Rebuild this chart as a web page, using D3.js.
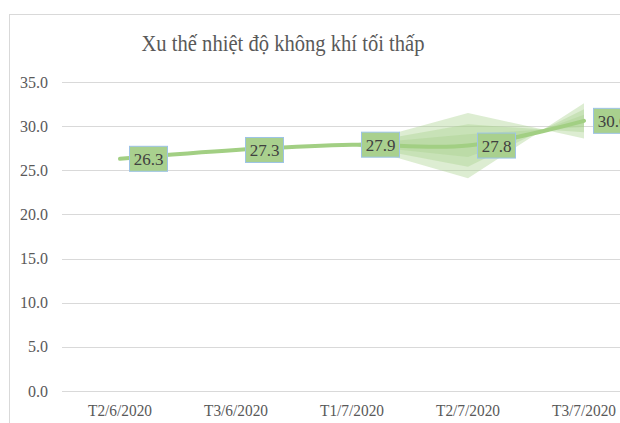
<!DOCTYPE html>
<html>
<head>
<meta charset="utf-8">
<script src="https://cdn.jsdelivr.net/npm/d3@7"></script>
<style>
  body { margin: 0; background: #fff; }
  svg text { font-family: "Liberation Serif", serif; }
</style>
</head>
<body>
<script>
// chart data
var categories = ["T2/6/2020", "T3/6/2020", "T1/7/2020", "T2/7/2020", "T3/7/2020"];
var values = [26.3, 27.3, 27.9, 27.8, 30.6];
// half-width of the shaded fan around the line (data units), sign flips where it crosses
var spread = [0, 0, 0, 3.7, -2.0];
var yTicks = [0, 5, 10, 15, 20, 25, 30, 35];
var title = "Xu thế nhiệt độ không khí tối thấp";

// set the dimensions and margins of the graph
var W = 620, H = 423;
var margin = {top: 82, right: -22, bottom: 32, left: 62},
  width = W - margin.left - margin.right,
  height = H - margin.top - margin.bottom;

// set the ranges
var x = d3.scaleBand().domain(categories).range([0, width]).padding(0);
var y = d3.scaleLinear().domain([0, 35]).range([height, 0]);
function cx(d, i) { return x(categories[i]) + x.bandwidth() / 2; }

var svg = d3.select("body").append("svg")
  .attr("width", W)
  .attr("height", H);

// chart frame
svg.append("rect")
  .attr("x", 9.5).attr("y", 14.5)
  .attr("width", 700).attr("height", 500)
  .attr("fill", "none")
  .attr("stroke", "#d9d9d9");

// title
svg.append("text")
  .attr("x", 283).attr("y", 51)
  .attr("text-anchor", "middle")
  .attr("font-family", "Liberation Serif")
  .attr("font-size", 24)
  .attr("fill", "#595959")
  .attr("textLength", 283)
  .attr("lengthAdjust", "spacingAndGlyphs")
  .text(title);

var g = svg.append("g")
  .attr("transform", "translate(" + margin.left + "," + margin.top + ")");

// gridlines
g.selectAll(".grid").data(yTicks).enter().append("line")
  .attr("x1", 0).attr("x2", width)
  .attr("y1", function(d) { return Math.round(y(d)) + 0.5; })
  .attr("y2", function(d) { return Math.round(y(d)) + 0.5; })
  .attr("stroke", "#d9d9d9");

// y tick labels
g.selectAll(".ylab").data(yTicks).enter().append("text")
  .attr("x", -14)
  .attr("y", function(d) { return y(d); })
  .attr("dy", "0.35em")
  .attr("text-anchor", "end")
  .attr("font-family", "Liberation Serif")
  .attr("font-size", 16)
  .attr("fill", "#595959")
  .text(function(d) { return d3.format(".1f")(d); });

// x tick labels
g.selectAll(".xlab").data(categories).enter().append("text")
  .attr("x", function(d, i) { return cx(d, i); })
  .attr("y", height + 25)
  .attr("text-anchor", "middle")
  .attr("font-family", "Liberation Serif")
  .attr("font-size", 16)
  .attr("fill", "#595959")
  .attr("textLength", 64)
  .attr("lengthAdjust", "spacingAndGlyphs")
  .text(function(d) { return d; });

// shaded fan (three layers)
var pts = values.map(function(v, i) { return {i: i, v: v, s: spread[i]}; }).slice(2);
[1, 0.65, 0.35].forEach(function(k) {
  var area = d3.area()
    .x(function(d) { return cx(null, d.i); })
    .y0(function(d) { return y(d.v - d.s * k); })
    .y1(function(d) { return y(d.v + d.s * k); });
  g.append("path")
    .datum(pts)
    .attr("d", area)
    .attr("fill", "#a9d18e")
    .attr("fill-opacity", 0.4);
});

// define the line
var valueline = d3.line()
  .x(function(d, i) { return cx(d, i); })
  .y(function(d) { return y(d); })
  .curve(d3.curveCatmullRom.alpha(0.5));

g.append("path")
  .datum(values)
  .attr("d", valueline)
  .attr("fill", "none")
  .attr("stroke", "#a2cf83")
  .attr("stroke-width", 4)
  .attr("stroke-linecap", "round");

// data labels
var lab = g.selectAll(".lab").data(values).enter().append("g")
  .attr("transform", function(d, i) { return "translate(" + (cx(d, i) + 9) + "," + y(d) + ")"; });
lab.append("rect")
  .attr("x", 0.5).attr("y", -12.5)
  .attr("width", 38).attr("height", 25)
  .attr("fill", "#a9d08e")
  .attr("stroke", "#9dc3e6");
lab.append("text")
  .attr("x", 19.5).attr("y", 0)
  .attr("dy", "0.35em")
  .attr("text-anchor", "middle")
  .attr("font-family", "Liberation Serif")
  .attr("font-size", 17)
  .attr("fill", "#404040")
  .text(function(d) { return d3.format(".1f")(d); });
</script>
</body>
</html>
